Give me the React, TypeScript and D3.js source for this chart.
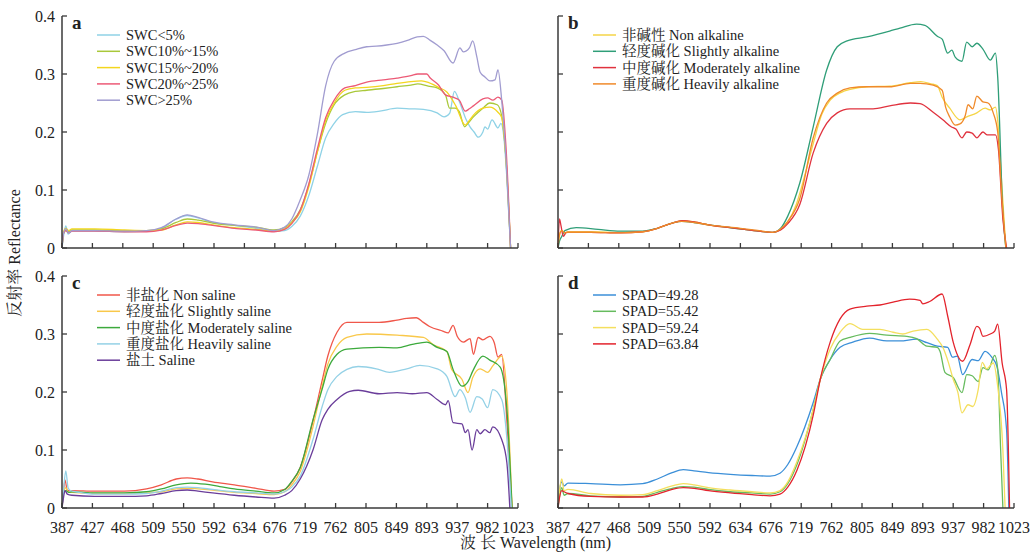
import React from 'react';
import * as d3 from 'd3';

// ---------- data ----------
const tickWl = [387, 427, 468, 509, 550, 592, 634, 676, 719, 762, 805, 849, 893, 937, 982, 1023];
const yTicks = [0, 0.1, 0.2, 0.3, 0.4];

// panel a: soil water content
const swcLt5 = [[387,0],[389,0.02],[392,0.038],[395,0.024],[400,0.029],[430,0.029],[470,0.028],[500,0.029],[520,0.034],[540,0.05],[555,0.056],[570,0.052],[590,0.044],[620,0.039],[650,0.034],[675,0.029],[690,0.03],[700,0.037],[712,0.055],[724,0.09],[736,0.14],[748,0.19],[760,0.215],[772,0.23],[790,0.235],[806,0.234],[825,0.236],[850,0.241],[870,0.24],[888,0.239],[908,0.233],[918,0.226],[926,0.232],[933,0.27],[941,0.25],[950,0.222],[956,0.209],[962,0.2],[968,0.191],[975,0.2],[978,0.209],[982,0.205],[988,0.221],[996,0.207],[1000,0.215],[1004,0.19],[1008,0.12],[1013,0]];
const swc10to15 = [[387,0],[389,0.025],[392,0.03],[396,0.028],[400,0.031],[430,0.031],[470,0.03],[500,0.03],[520,0.033],[540,0.044],[555,0.05],[570,0.048],[590,0.043],[620,0.039],[650,0.036],[675,0.031],[690,0.035],[700,0.045],[712,0.066],[724,0.108],[736,0.165],[748,0.215],[760,0.247],[775,0.264],[790,0.27],[806,0.272],[830,0.275],[850,0.278],[870,0.281],[880,0.283],[895,0.279],[908,0.276],[920,0.264],[926,0.241],[934,0.241],[940,0.235],[948,0.209],[953,0.215],[961,0.226],[975,0.241],[985,0.25],[995,0.247],[1001,0.228],[1007,0.15],[1013,0]];
const swc15to20 = [[387,0],[389,0.028],[392,0.034],[396,0.03],[400,0.033],[430,0.033],[470,0.031],[500,0.03],[520,0.031],[540,0.04],[555,0.045],[570,0.044],[590,0.04],[620,0.035],[650,0.032],[675,0.029],[690,0.033],[700,0.043],[712,0.062],[724,0.105],[736,0.165],[748,0.22],[760,0.25],[775,0.272],[790,0.276],[806,0.277],[830,0.28],[850,0.284],[870,0.287],[885,0.288],[900,0.283],[910,0.277],[922,0.269],[935,0.245],[949,0.212],[955,0.22],[961,0.229],[975,0.241],[985,0.243],[996,0.234],[1001,0.225],[1007,0.15],[1013,0]];
const swc20to25 = [[387,0],[389,0.025],[392,0.03],[396,0.026],[400,0.029],[430,0.029],[470,0.028],[500,0.028],[520,0.031],[540,0.039],[555,0.043],[570,0.042],[590,0.039],[620,0.034],[650,0.031],[675,0.028],[690,0.032],[700,0.042],[712,0.065],[724,0.11],[736,0.17],[748,0.225],[760,0.255],[775,0.276],[790,0.28],[806,0.286],[830,0.29],[850,0.293],[870,0.297],[880,0.3],[893,0.3],[898,0.293],[910,0.281],[920,0.264],[931,0.26],[940,0.255],[949,0.236],[955,0.24],[961,0.245],[975,0.257],[982,0.259],[989,0.255],[996,0.26],[1001,0.255],[1007,0.17],[1013,0]];
const swcGt25 = [[387,0],[389,0.025],[392,0.033],[396,0.026],[400,0.03],[430,0.03],[470,0.029],[500,0.03],[520,0.035],[540,0.05],[555,0.057],[570,0.053],[590,0.045],[620,0.04],[650,0.036],[675,0.03],[690,0.036],[700,0.05],[712,0.083],[724,0.125],[736,0.195],[748,0.28],[760,0.322],[775,0.336],[790,0.342],[806,0.347],[820,0.348],[835,0.35],[850,0.353],[865,0.358],[879,0.364],[888,0.365],[898,0.358],[908,0.35],[918,0.34],[931,0.319],[941,0.345],[946,0.338],[955,0.345],[960,0.357],[966,0.33],[971,0.303],[978,0.295],[985,0.288],[992,0.29],[996,0.307],[1001,0.255],[1007,0.15],[1013,0]];

// panel b: alkalinity
const nonAlk = [[387,0],[389,0.025],[392,0.03],[396,0.026],[400,0.028],[430,0.028],[470,0.027],[500,0.028],[520,0.034],[540,0.043],[553,0.047],[570,0.045],[590,0.04],[634,0.033],[660,0.029],[679,0.027],[690,0.032],[700,0.045],[712,0.075],[724,0.125],[736,0.18],[748,0.23],[760,0.255],[775,0.268],[790,0.274],[812,0.278],[845,0.279],[875,0.285],[890,0.287],[905,0.283],[914,0.28],[921,0.26],[932,0.241],[947,0.221],[957,0.226],[972,0.233],[984,0.241],[991,0.238],[998,0.243],[1001,0.22],[1006,0.12],[1012,0]];
const slightAlk = [[387,0],[389,0.012],[392,0.02],[396,0.03],[411,0.035],[440,0.032],[470,0.029],[500,0.029],[520,0.034],[540,0.043],[553,0.046],[570,0.044],[590,0.04],[634,0.033],[660,0.029],[679,0.027],[690,0.034],[700,0.055],[717,0.112],[736,0.209],[755,0.307],[770,0.347],[784,0.357],[812,0.364],[845,0.374],[860,0.379],[884,0.386],[896,0.384],[900,0.381],[914,0.365],[921,0.36],[929,0.336],[935,0.341],[940,0.329],[950,0.322],[957,0.355],[965,0.347],[972,0.353],[981,0.343],[991,0.324],[998,0.336],[1001,0.295],[1008,0.06],[1012,0]];
const modAlk = [[387,0],[389,0.05],[391,0.038],[394,0.02],[398,0.027],[430,0.027],[470,0.026],[500,0.028],[520,0.034],[540,0.043],[553,0.047],[570,0.045],[590,0.04],[634,0.033],[660,0.029],[679,0.027],[690,0.031],[700,0.042],[717,0.075],[736,0.164],[755,0.215],[770,0.233],[788,0.24],[821,0.24],[845,0.245],[875,0.25],[889,0.249],[908,0.234],[922,0.221],[934,0.209],[941,0.205],[950,0.19],[957,0.2],[965,0.198],[972,0.19],[981,0.2],[987,0.195],[998,0.195],[1002,0.17],[1008,0.05],[1013,0]];
const heavyAlk = [[387,0],[389,0.022],[392,0.03],[396,0.026],[400,0.027],[430,0.027],[470,0.026],[500,0.028],[520,0.034],[540,0.043],[553,0.046],[570,0.044],[590,0.04],[634,0.034],[660,0.03],[679,0.027],[690,0.033],[700,0.046],[717,0.085],[736,0.19],[755,0.25],[770,0.267],[788,0.276],[812,0.278],[845,0.278],[875,0.284],[889,0.284],[908,0.281],[921,0.272],[926,0.243],[932,0.226],[940,0.212],[947,0.214],[955,0.229],[959,0.247],[966,0.24],[972,0.262],[981,0.252],[988,0.25],[995,0.233],[1001,0.2],[1007,0.08],[1012,0]];

// panel c: salinity
const nonSal = [[387,0],[389,0.03],[391,0.048],[394,0.03],[400,0.03],[430,0.029],[470,0.029],[500,0.033],[520,0.04],[540,0.05],[555,0.052],[570,0.05],[590,0.045],[620,0.04],[650,0.034],[675,0.029],[690,0.032],[700,0.045],[712,0.07],[730,0.15],[743,0.22],[751,0.262],[764,0.303],[778,0.32],[806,0.32],[824,0.32],[850,0.324],[864,0.327],[878,0.328],[888,0.32],[897,0.313],[916,0.305],[924,0.302],[931,0.315],[937,0.296],[946,0.286],[956,0.292],[961,0.265],[968,0.294],[975,0.29],[985,0.296],[991,0.285],[996,0.26],[1001,0.265],[1008,0.15],[1015,0]];
const slightSal = [[387,0],[389,0.025],[392,0.035],[395,0.028],[400,0.027],[430,0.025],[470,0.025],[500,0.026],[520,0.028],[540,0.033],[555,0.034],[570,0.033],[590,0.031],[620,0.027],[650,0.025],[675,0.023],[690,0.028],[700,0.04],[712,0.063],[730,0.14],[743,0.21],[751,0.248],[764,0.279],[778,0.294],[806,0.3],[850,0.298],[888,0.294],[902,0.282],[922,0.27],[929,0.239],[944,0.222],[953,0.199],[960,0.225],[971,0.24],[982,0.234],[989,0.245],[1001,0.262],[1008,0.2],[1015,0]];
const modSal = [[387,0],[389,0.025],[392,0.03],[396,0.027],[400,0.028],[430,0.026],[470,0.026],[500,0.028],[520,0.033],[540,0.04],[560,0.043],[580,0.041],[600,0.037],[620,0.033],[650,0.029],[675,0.026],[690,0.032],[700,0.046],[712,0.07],[730,0.152],[743,0.205],[751,0.239],[764,0.265],[778,0.274],[824,0.277],[850,0.276],[872,0.282],[893,0.286],[908,0.277],[922,0.27],[931,0.239],[944,0.21],[953,0.218],[960,0.236],[975,0.262],[985,0.255],[999,0.243],[1008,0.17],[1015,0]];
const heavySal = [[387,0],[389,0.03],[392,0.064],[395,0.035],[398,0.03],[410,0.027],[430,0.024],[470,0.024],[500,0.025],[520,0.029],[540,0.035],[555,0.036],[570,0.035],[590,0.032],[620,0.028],[650,0.026],[675,0.024],[690,0.028],[700,0.036],[712,0.055],[730,0.118],[743,0.175],[751,0.204],[764,0.227],[778,0.239],[794,0.244],[820,0.24],[839,0.234],[864,0.24],[883,0.246],[908,0.24],[922,0.227],[934,0.192],[941,0.204],[949,0.19],[956,0.165],[966,0.192],[974,0.188],[982,0.173],[989,0.204],[1001,0.187],[1008,0.12],[1014,0]];
const saline = [[387,0],[389,0.018],[391,0.03],[394,0.024],[400,0.022],[430,0.02],[470,0.02],[500,0.021],[520,0.025],[540,0.03],[555,0.031],[570,0.029],[590,0.026],[620,0.022],[650,0.019],[675,0.017],[690,0.022],[700,0.03],[712,0.05],[730,0.1],[743,0.152],[751,0.17],[764,0.187],[782,0.201],[794,0.203],[824,0.197],[850,0.199],[872,0.197],[893,0.199],[908,0.187],[920,0.178],[924,0.185],[931,0.147],[944,0.145],[949,0.13],[953,0.135],[959,0.1],[966,0.135],[971,0.128],[978,0.135],[985,0.13],[989,0.14],[1001,0.118],[1008,0.078],[1012,0]];

// panel d: SPAD
const spad4928 = [[387,0],[389,0.03],[392,0.045],[395,0.038],[400,0.043],[430,0.042],[470,0.04],[500,0.042],[520,0.05],[540,0.061],[555,0.066],[570,0.064],[590,0.061],[620,0.058],[650,0.056],[675,0.055],[689,0.06],[700,0.075],[713,0.106],[736,0.182],[746,0.222],[760,0.256],[774,0.277],[792,0.286],[816,0.293],[841,0.288],[860,0.288],[884,0.291],[899,0.285],[914,0.279],[929,0.277],[936,0.26],[943,0.262],[951,0.23],[965,0.256],[974,0.254],[984,0.27],[993,0.26],[1000,0.244],[1006,0.2],[1013,0.135],[1016,0]];
const spad5542 = [[387,0],[389,0.02],[392,0.035],[395,0.022],[400,0.025],[430,0.021],[470,0.019],[500,0.02],[520,0.027],[540,0.034],[555,0.037],[570,0.036],[590,0.032],[620,0.028],[650,0.026],[675,0.024],[689,0.028],[700,0.042],[713,0.075],[736,0.17],[746,0.222],[760,0.256],[774,0.288],[788,0.294],[816,0.301],[841,0.298],[870,0.296],[884,0.292],[899,0.279],[914,0.277],[918,0.27],[925,0.234],[937,0.225],[950,0.199],[957,0.23],[965,0.228],[974,0.218],[981,0.242],[988,0.238],[997,0.263],[1001,0.24],[1005,0.1],[1008,0]];
const spad5924 = [[387,0],[389,0.03],[392,0.05],[395,0.03],[400,0.032],[430,0.025],[470,0.022],[500,0.023],[520,0.03],[540,0.038],[555,0.042],[570,0.04],[590,0.035],[620,0.031],[650,0.028],[675,0.026],[689,0.03],[700,0.045],[713,0.08],[736,0.17],[746,0.222],[760,0.274],[774,0.303],[788,0.318],[806,0.308],[831,0.308],[850,0.303],[864,0.3],[879,0.305],[899,0.308],[914,0.291],[922,0.277],[930,0.251],[937,0.222],[944,0.199],[950,0.164],[959,0.178],[966,0.175],[974,0.204],[980,0.251],[986,0.24],[995,0.25],[1001,0.21],[1008,0.1],[1011,0]];
const spad6384 = [[387,0],[389,0.018],[392,0.03],[395,0.028],[400,0.025],[430,0.02],[470,0.019],[500,0.019],[520,0.024],[540,0.032],[555,0.035],[570,0.034],[590,0.03],[620,0.026],[650,0.023],[675,0.021],[689,0.024],[700,0.036],[713,0.065],[736,0.16],[746,0.222],[760,0.286],[774,0.326],[788,0.343],[812,0.348],[831,0.35],[850,0.355],[874,0.36],[889,0.358],[893,0.352],[903,0.356],[921,0.369],[929,0.331],[937,0.286],[951,0.253],[962,0.282],[972,0.313],[976,0.31],[981,0.296],[991,0.3],[997,0.305],[1001,0.317],[1007,0.25],[1013,0.204],[1017,0]];

// ---------- layout / styles ----------
const PW = 456;
const PH = 232;
const SERIF = "'Liberation Serif', 'Times New Roman', 'Noto Serif CJK SC', 'Noto Sans CJK SC', serif";
const AXIS = '#3a3a3a';
const TEXT = '#222';

const panels = [
  { letter: 'a', left: 62, bottom: 248, yLabels: true, xLabels: false, series: [
    { name: 'SWC<5%', color: '#8fd2e6', data: swcLt5 },
    { name: 'SWC10%~15%', color: '#a9c83a', data: swc10to15 },
    { name: 'SWC15%~20%', color: '#f3d61e', data: swc15to20 },
    { name: 'SWC20%~25%', color: '#ec5a76', data: swc20to25 },
    { name: 'SWC>25%', color: '#a19cd0', data: swcGt25 },
  ]},
  { letter: 'b', left: 558, bottom: 248, yLabels: false, xLabels: false, series: [
    { name: '非碱性 Non alkaline', color: '#f5d547', data: nonAlk },
    { name: '轻度碱化 Slightly alkaline', color: '#2f9e78', data: slightAlk },
    { name: '中度碱化 Moderately alkaline', color: '#e0323e', data: modAlk },
    { name: '重度碱化 Heavily alkaline', color: '#f08a2a', data: heavyAlk },
  ]},
  { letter: 'c', left: 62, bottom: 508, yLabels: true, xLabels: true, series: [
    { name: '非盐化 Non saline', color: '#f0574a', data: nonSal },
    { name: '轻度盐化 Slightly saline', color: '#f9c84a', data: slightSal },
    { name: '中度盐化 Moderately saline', color: '#3caa3c', data: modSal },
    { name: '重度盐化 Heavily saline', color: '#94d1e6', data: heavySal },
    { name: '盐土 Saline', color: '#6a3d9a', data: saline },
  ]},
  { letter: 'd', left: 558, bottom: 508, yLabels: false, xLabels: true, series: [
    { name: 'SPAD=49.28', color: '#3b8fd8', data: spad4928 },
    { name: 'SPAD=55.42', color: '#66bb5e', data: spad5542 },
    { name: 'SPAD=59.24', color: '#f4df5e', data: spad5924 },
    { name: 'SPAD=63.84', color: '#e3232c', data: spad6384 },
  ]},
];

function Panel({ p }: { p: any }) {
  const x = d3.scaleLinear()
    .domain(tickWl)
    .range(tickWl.map((_, i) => p.left + (i * PW) / (tickWl.length - 1)));
  const y = d3.scaleLinear().domain([0, 0.4]).range([p.bottom, p.bottom - PH]);
  const line = d3.line<number[]>()
    .x((d) => x(d[0]))
    .y((d) => y(d[1]))
    .curve(d3.curveMonotoneX);
  const top = y(0.4);
  return (
    <g>
      {p.series.map((s: any) => (
        <path key={s.name} d={line(s.data) || ''} fill="none" stroke={s.color} strokeWidth={1.3} strokeLinejoin="round" />
      ))}
      <line x1={p.left} x2={p.left} y1={top} y2={p.bottom} stroke={AXIS} strokeWidth={1.5} />
      <line x1={p.left} x2={p.left + PW} y1={p.bottom} y2={p.bottom} stroke={AXIS} strokeWidth={1.5} />
      {yTicks.map((t) => (
        <g key={'y' + t}>
          <line x1={p.left} x2={p.left + 5} y1={y(t)} y2={y(t)} stroke={AXIS} strokeWidth={1.3} />
          {p.yLabels && (
            <text x={p.left - 7} y={y(t)} dy="0.35em" textAnchor="end" fontSize={16} fill={TEXT} fontFamily={SERIF}>
              {t === 0 ? '0' : d3.format('.1f')(t)}
            </text>
          )}
        </g>
      ))}
      {tickWl.map((w) => (
        <g key={'x' + w}>
          <line x1={x(w)} x2={x(w)} y1={p.bottom} y2={p.bottom - 5} stroke={AXIS} strokeWidth={1.3} />
          {p.xLabels && (
            <text x={x(w)} y={p.bottom + 25} textAnchor="middle" fontSize={16} fill={TEXT} fontFamily={SERIF}>
              {w}
            </text>
          )}
        </g>
      ))}
      <text x={p.left + 10} y={top + 13} fontSize={19} fontWeight="bold" fill={TEXT} fontFamily={SERIF}>
        {p.letter}
      </text>
      {p.series.map((s: any, i: number) => {
        const ly = top + 19 + i * 16.3;
        return (
          <g key={'lg' + s.name}>
            <line x1={p.left + 35} x2={p.left + 58} y1={ly} y2={ly} stroke={s.color} strokeWidth={1.5} />
            <text x={p.left + 64} y={ly} dy="0.35em" fontSize={14.5} fill={TEXT} fontFamily={SERIF}>
              {s.name}
            </text>
          </g>
        );
      })}
    </g>
  );
}

export default function App() {
  return (
    <svg
      width={1035}
      height={555}
      viewBox="0 0 1035 555"
      style={{ position: 'absolute', left: 0, top: 0, background: '#fff' }}
    >
      <rect x={0} y={0} width={1035} height={555} fill="#fff" />
      {panels.map((p) => (
        <Panel key={p.letter} p={p} />
      ))}
      <text x={460} y={548} fontSize={16} fill={TEXT} fontFamily={SERIF}>
        波 长 Wavelength (nm)
      </text>
      <text
        transform="translate(20,253) rotate(-90)"
        textAnchor="middle"
        fontSize={16}
        fill={TEXT}
        fontFamily={SERIF}
      >
        反射率 Reflectance
      </text>
    </svg>
  );
}
